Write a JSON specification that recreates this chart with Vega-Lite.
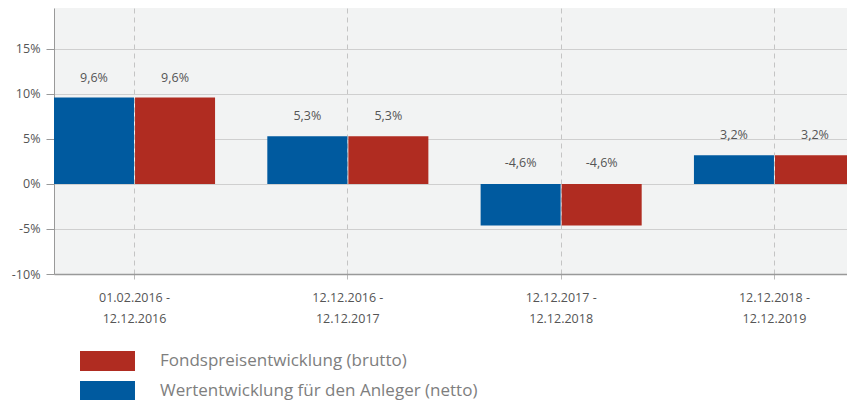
{
  "$schema": "https://vega.github.io/schema/vega-lite/v6.json",
  "autosize": {"type": "none"},
  "padding": {"left": 54, "top": 8, "right": 0, "bottom": 126},
  "width": 793,
  "height": 266,
  "data": {"values": [
    {"period": "01.02.2016 - 12.12.2016", "series": "Wertentwicklung für den Anleger (netto)", "value": 0.096},
    {"period": "01.02.2016 - 12.12.2016", "series": "Fondspreisentwicklung (brutto)", "value": 0.096},
    {"period": "12.12.2016 - 12.12.2017", "series": "Wertentwicklung für den Anleger (netto)", "value": 0.053},
    {"period": "12.12.2016 - 12.12.2017", "series": "Fondspreisentwicklung (brutto)", "value": 0.053},
    {"period": "12.12.2017 - 12.12.2018", "series": "Wertentwicklung für den Anleger (netto)", "value": -0.046},
    {"period": "12.12.2017 - 12.12.2018", "series": "Fondspreisentwicklung (brutto)", "value": -0.046},
    {"period": "12.12.2018 - 12.12.2019", "series": "Wertentwicklung für den Anleger (netto)", "value": 0.032},
    {"period": "12.12.2018 - 12.12.2019", "series": "Fondspreisentwicklung (brutto)", "value": 0.032}
  ]},
  "encoding": {
    "x": {
      "field": "period", "type": "nominal", "sort": null,
      "scale": {"paddingInner": 0.245, "paddingOuter": 0, "range": [0, 801]},
      "axis": {
        "title": null, "labelAngle": 0,
        "labelExpr": "[slice(datum.label,0,12), slice(datum.label,13)]",
        "labelLineHeight": 21, "labelFontSize": 12.5, "labelColor": "#555",
        "labelPadding": 9, "tickSize": 8, "tickColor": "#bbb", "tickDash": [5, 4],
        "domainColor": "#999", "domainWidth": 1.5,
        "grid": true, "gridColor": "#c4c4c4", "gridDash": [5, 4]
      }
    },
    "xOffset": {
      "field": "series", "type": "nominal",
      "scale": {"domain": ["Wertentwicklung für den Anleger (netto)", "Fondspreisentwicklung (brutto)"], "paddingInner": 0.0125}
    }
  },
  "layer": [
    {
      "mark": {"type": "bar"},
      "encoding": {
        "y": {
          "field": "value", "type": "quantitative",
          "scale": {"domain": [-0.1, 0.1955], "nice": false, "zero": false},
          "axis": {
            "title": null, "values": [-0.1, -0.05, 0, 0.05, 0.1, 0.15], "format": ".0%",
            "labelFontSize": 12.5, "labelColor": "#555", "labelPadding": 6,
            "tickSize": 8, "tickColor": "#999", "domainColor": "#999",
            "gridColor": "#cfcfcf"
          }
        },
        "color": {
          "field": "series", "type": "nominal",
          "scale": {"domain": ["Fondspreisentwicklung (brutto)", "Wertentwicklung für den Anleger (netto)"], "range": ["#b02c21", "#005a9f"]},
          "legend": {
            "title": null, "orient": "none", "legendX": 38.5, "legendY": 338, "direction": "vertical",
            "symbolType": "M-1.833,-0.667L1.833,-0.667L1.833,0.667L-1.833,0.667Z", "symbolSize": 900,
            "symbolStrokeWidth": 0, "symbolOpacity": 1,
            "labelFontSize": 17, "labelColor": "#7e7e7e", "labelOffset": 37.5, "rowPadding": 4,
            "labelLimit": 500
          }
        }
      }
    },
    {
      "transform": [{"filter": "datum.value >= 0"}],
      "mark": {"type": "text", "dy": -20, "fontSize": 12.5, "color": "#555", "baseline": "middle"},
      "encoding": {
        "y": {"field": "value", "type": "quantitative"},
        "text": {"field": "value", "type": "quantitative", "format": ".1%"}
      }
    },
    {
      "transform": [{"filter": "datum.value < 0"}],
      "mark": {"type": "text", "dy": -21, "fontSize": 12.5, "color": "#555", "baseline": "middle"},
      "encoding": {
        "y": {"datum": 0, "type": "quantitative"},
        "text": {"field": "value", "type": "quantitative", "format": ".1%"}
      }
    }
  ],
  "config": {
    "font": "Open Sans",
    "view": {"fill": "#f2f3f3", "stroke": null},
    "locale": {"number": {"decimal": ",", "thousands": ".", "grouping": [3], "currency": ["", " €"], "minus": "-"}}
  }
}
